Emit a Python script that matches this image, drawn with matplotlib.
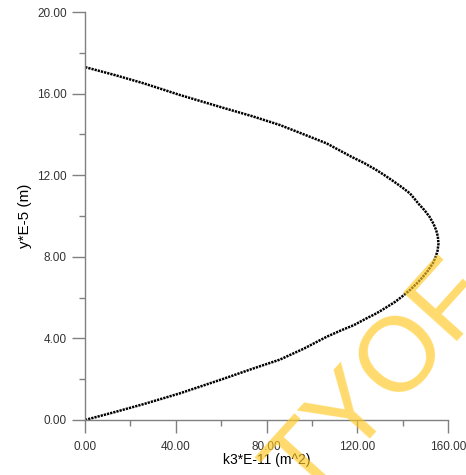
import matplotlib
matplotlib.use("Agg")
import matplotlib.pyplot as plt
from matplotlib.ticker import MultipleLocator, FormatStrFormatter

plt.rcParams['font.family'] = ['Liberation Sans', 'DejaVu Sans']

# values: y*E-5 (m) and k3*E-11 (m^2)
y_vals = [0.00, 0.40, 0.80, 1.31, 2.00, 2.50, 2.96, 3.50, 4.08, 4.40, 4.65,
          4.95, 5.23, 5.50, 5.80, 6.10, 6.37, 6.70, 7.00, 7.30, 7.68, 8.00,
          8.30, 8.65, 9.00, 9.30, 9.62, 9.97, 10.30, 10.60, 10.85, 11.11,
          11.40, 11.70, 12.00, 12.25, 12.60, 12.90, 13.20, 13.56, 14.00,
          14.46, 14.90, 15.30, 15.93, 16.50, 16.90, 17.30]
k3_vals = [0.0, 13.5, 26.5, 41.9, 60.5, 73.5, 85.9, 96.5, 106.5, 113.0, 118.5,
           123.5, 128.5, 132.5, 136.8, 140.3, 143.2, 146.3, 148.8, 151.0, 153.3,
           154.6, 155.4, 155.8, 155.5, 154.8, 153.6, 151.8, 149.5, 147.0, 145.2,
           143.2, 139.8, 136.0, 132.0, 128.5, 123.0, 117.5, 112.5, 106.5, 96.5,
           85.9, 73.5, 61.0, 41.9, 26.0, 13.5, 0.0]

x_label = "k3*E-11 (m^2)"
y_label = "y*E-5 (m)"
watermark = "TYOF"

fig = plt.figure(figsize=(4.66, 4.75), dpi=100)
ax = fig.add_axes([0.1824, 0.1158, 0.779, 0.8589])

ax.plot(k3_vals, y_vals, color='black', linewidth=1.8,
        linestyle=(0, (0.9, 0.4)), solid_capstyle='butt')

ax.set_xlim(0, 160)
ax.set_ylim(0, 20)
ax.xaxis.set_major_locator(MultipleLocator(40))
ax.xaxis.set_minor_locator(MultipleLocator(20))
ax.yaxis.set_major_locator(MultipleLocator(4))
ax.yaxis.set_minor_locator(MultipleLocator(2))
ax.xaxis.set_major_formatter(FormatStrFormatter('%.2f'))
ax.yaxis.set_major_formatter(FormatStrFormatter('%.2f'))

for side in ['top', 'right']:
    ax.spines[side].set_visible(False)
for side in ['left', 'bottom']:
    ax.spines[side].set_color('#808080')
    ax.spines[side].set_linewidth(1.0)

ax.tick_params(which='major', direction='out', length=9.5, width=1.0,
               color='#808080', labelsize=8.5, labelcolor='#333333')
ax.tick_params(which='minor', direction='out', length=4.5, width=1.0,
               color='#808080')
ax.tick_params(axis='y', which='major', pad=3.5)
ax.tick_params(axis='x', which='major', pad=5.5)

ax.set_xlabel(x_label, fontsize=10, labelpad=0)
ax.set_ylabel(y_label, fontsize=11, labelpad=4)

fig.text(381 / 466, 1 - 383 / 475, watermark, fontsize=76, color='#FFC820',
         alpha=0.65, rotation=48, ha='center', va='center',
         rotation_mode='anchor')

fig.savefig("out.png", dpi=100)
